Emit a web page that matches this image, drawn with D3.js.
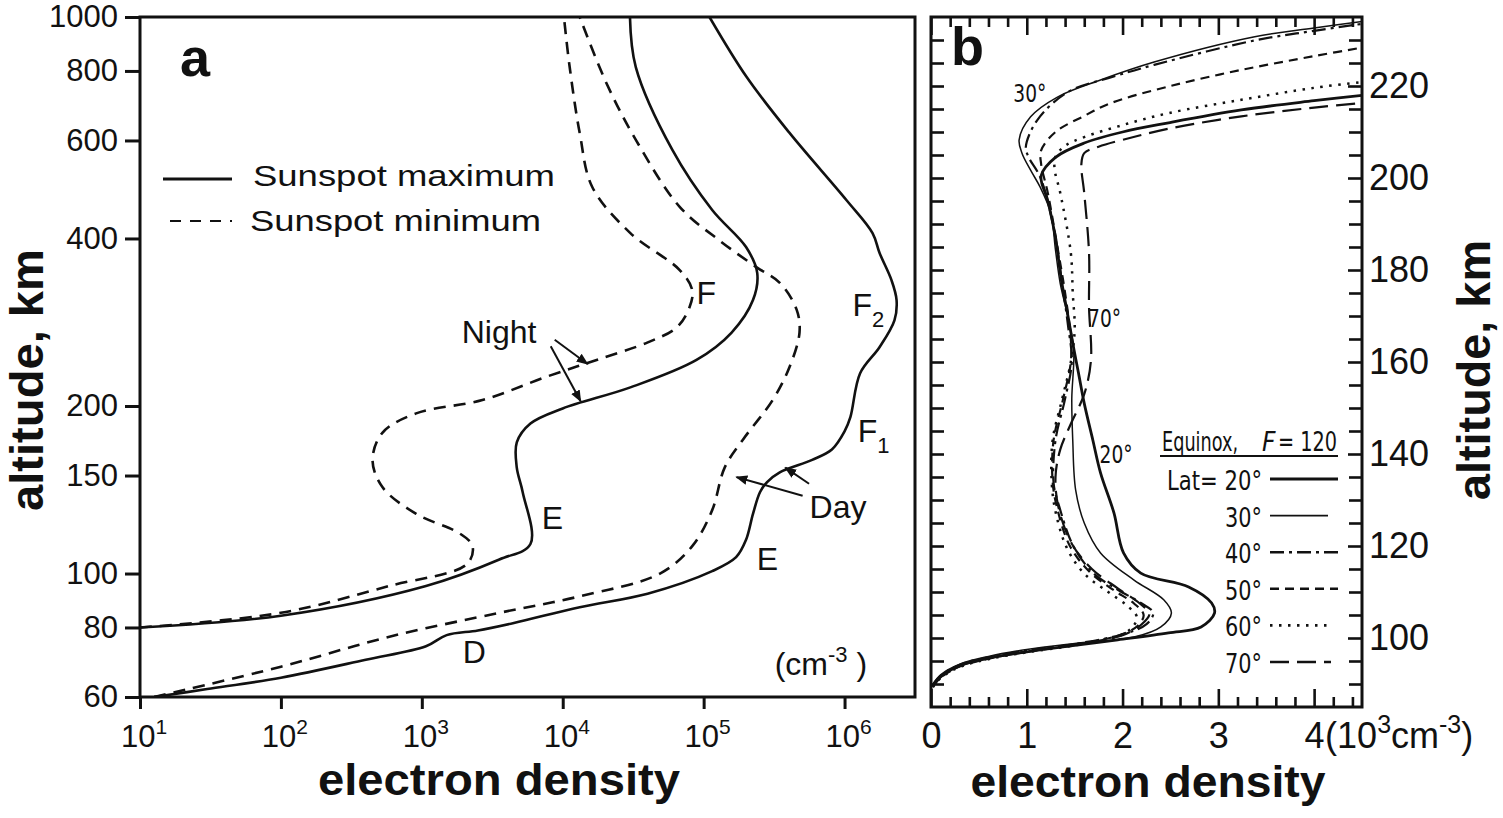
<!DOCTYPE html>
<html>
<head>
<meta charset="utf-8">
<script src="https://cdn.jsdelivr.net/npm/d3@7"></script>
<style>
  body { margin: 0; background: #fff; }
  svg { display: block; font-family: "Liberation Sans", Arial, Helvetica, sans-serif; }
  .narrow { font-family: "Liberation Sans Narrow", "DejaVu Sans Condensed", "Liberation Sans", sans-serif; }
</style>
</head>
<body>
<svg id="fig" width="1503" height="818"></svg>
<script>
// ---- panel a : electron density (cm-3) vs altitude (km), log/log ----
let dayMax = [[12.6,60],[30,62],[100,65],[400,70],[1070,74],[1500,77.5],[2500,79],[4500,81.5],[13200,87],
  [40000,92],[115000,101],[170000,107],[200000,115],[224000,128],[251000,140],[282000,146],[347000,152],
  [589000,160],[813000,167],[1.0e6,180],[1.1e6,191],[1.29e6,229],[1.77e6,255],[2.26e6,285],[2.34e6,310],
  [2.15e6,337],[1.77e6,377],[1.58e6,409],[1.03e6,469],[4.07e5,619],[2.02e5,780],[1.1e5,1000]];
let dayMin = [[12.6,60],[100,68],[589,77],[3550,85],[13200,91],[49000,100],[83000,112],[115000,130],
  [141000,155],[190000,174],[309000,205],[407000,235],[479000,271],[457000,298],[347000,333],[238000,355],
  [129000,397],[67600,456],[33100,601],[20400,761],[13200,1000]];
let nightMax = [[10,80],[100,84],[1070,95],[3550,106],[5900,113],[5200,140],[4720,155],[4720,172],
  [5900,186],[10000,198],[30200,216],[89000,242],[158000,271],[224000,310],[240000,347],[200000,386],
  [115000,450],[60000,577],[33000,813],[30000,1000]];
let nightMin = [[10,80],[100,85],[589,95],[2090,104],[2290,112],[1860,118],[912,128],[525,143],[447,160],
  [525,179],[912,194],[2690,205],[7760,226],[17400,242],[39800,260],[64600,277],[79400,301],[83000,323],
  [67600,351],[30200,409],[16200,495],[13200,619],[11200,813],[10200,1000]];

let altTicksA = [60, 80, 100, 150, 200, 400, 600, 800, 1000];
let densTicksA = [1e1, 1e2, 1e3, 1e4, 1e5, 1e6];

// annotations of panel a, in data units [density, altitude]
let labelsA = [
  {t: "Night", at: [1920, 260]}, {t: "F", at: [89000, 305]}, {t: "F", sub: "2", at: [1.14e6, 290]},
  {t: "F", sub: "1", at: [1.24e6, 172]}, {t: "Day", at: [5.65e5, 126]}, {t: "E", at: [7100, 120]},
  {t: "E", at: [2.38e5, 101.5]}, {t: "D", at: [1950, 69]}
];
let arrowsA = [
  [[8770, 263], [15000, 238]], [[8220, 256], [13400, 204]],
  [[5.04e5, 138], [1.71e5, 149]], [[5.6e5, 145], [3.8e5, 155]]
];

// ---- panel b : electron density (10^3 cm-3) vs altitude (km), linear ----
let lats = ["20°", "30°", "40°", "50°", "60°", "70°"];
let lat20 = [[0.02,89.6],[0.1,91.6],[0.3,94],[0.6,95.6],[1.0,97],[1.5,98.4],[1.95,99.6],[2.48,101.1],[2.82,102.4],
  [2.96,105.4],[2.93,107.6],[2.69,111.1],[2.19,114.1],[2.01,118.5],[1.91,127.2],[1.77,135.9],[1.69,143],
  [1.6,151],[1.54,157.6],[1.49,163],[1.43,170],[1.36,178],[1.3,187],[1.22,195],[1.15,200.5],[1.3,204.5],
  [1.6,207.6],[2.0,210],[2.48,212],[3.24,214.8],[4.0,216.8],[4.6,218.2]];
let lat30 = [[0.02,90],[0.1,92],[0.3,94.3],[0.6,96],[1.0,97.5],[1.5,98.8],[2.12,100.2],[2.4,102.4],[2.51,105.4],
  [2.43,108.3],[2.12,112.6],[1.77,118.5],[1.6,125],[1.51,132.2],[1.48,143],[1.47,152],[1.49,162.6],
  [1.43,169.8],[1.35,177],[1.3,184.3],[1.25,192.4],[1.14,198],[1.04,201.7],[0.95,205.4],[0.92,208.3],
  [1.04,213.3],[1.32,217.6],[1.77,221.3],[2.33,225.2],[3.38,230.7],[4.0,232.6],[4.6,234.3]];
let lat40 = [[0.02,89.8],[0.1,91.8],[0.3,94.2],[0.6,95.8],[1.0,97.3],[1.5,98.7],[2.0,100.8],[2.25,103],[2.32,105.5],
  [2.2,107.5],[1.95,110.5],[1.7,114],[1.49,119.8],[1.34,128.5],[1.28,133.7],[1.3,143],[1.4,152],[1.47,160],
  [1.43,168],[1.37,177],[1.28,189.3],[1.14,200.2],[1.02,204.5],[0.99,206.7],[1.11,212.6],[1.43,218.7],
  [1.9,222],[2.33,224.6],[3.38,229.9],[4.0,232],[4.6,233.8]];
let lat50 = [[0.02,89.4],[0.1,91.4],[0.3,93.8],[0.6,95.5],[1.0,97],[1.5,98.5],[1.95,100.5],[2.15,102.5],[2.22,105],
  [2.12,107.5],[1.9,110.5],[1.65,114.5],[1.45,120],[1.32,128],[1.27,134],[1.28,143],[1.38,152],[1.46,160],
  [1.46,165],[1.4,175],[1.32,185],[1.22,196.7],[1.15,203],[1.15,206],[1.3,210],[1.6,213.5],[1.88,216.3],
  [2.5,220],[3.24,223.5],[4.0,226.5],[4.6,228.7]];
let lat60 = [[0.02,89.3],[0.1,91.3],[0.3,93.7],[0.6,95.4],[1.0,96.9],[1.5,98.4],[1.95,100.3],[2.1,102.3],[2.15,104.5],
  [2.05,107],[1.85,110],[1.6,114],[1.42,119.5],[1.3,127.5],[1.26,134],[1.27,143],[1.37,152],[1.46,160],
  [1.5,167],[1.48,175],[1.46,183.7],[1.35,196.7],[1.29,202],[1.3,204.6],[1.4,207],[1.6,208.9],[2.0,211.5],
  [2.48,214.1],[3.24,217],[4.0,219.6],[4.6,221.1]];
let lat70 = [[0.02,89.5],[0.1,91.5],[0.3,93.9],[0.6,95.6],[1.0,97.1],[1.5,98.6],[2.0,100.6],[2.2,103],[2.28,105.3],
  [2.18,107.5],[1.95,110.8],[1.68,115],[1.47,120.5],[1.33,128.5],[1.3,135],[1.35,141],[1.47,147],[1.6,153],
  [1.67,160.4],[1.65,172],[1.65,183.7],[1.6,196.7],[1.57,203],[1.6,205.4],[1.75,206.8],[2.0,208.3],
  [2.5,210.8],[3.24,213.4],[4.0,215.3],[4.6,216.5]];
let profilesB = [lat20, lat30, lat40, lat50, lat60, lat70];

let densTicksB = [0, 1, 2, 3, 4];
let altTicksB = [100, 120, 140, 160, 180, 200, 220];
let labelsB = [{t: "30°", at: [0.86, 216.5]}, {t: "70°", at: [1.64, 167.6]}, {t: "20°", at: [1.76, 138]}];

// line looks for the six latitudes
let latStyle = [
  {w: 2.8, dash: null}, {w: 1.5, dash: null}, {w: 2.2, dash: "14,5,3,5"},
  {w: 2.2, dash: "9,6"}, {w: 2.5, dash: "2.5,6.5"}, {w: 2.2, dash: "19,8"}
];

let svg = d3.select("#fig");
let ink = "#111";

svg.append("defs").append("marker")
    .attr("id", "head")
    .attr("viewBox", "0 0 10 10")
    .attr("refX", 9).attr("refY", 5)
    .attr("markerWidth", 12).attr("markerHeight", 12)
    .attr("markerUnits", "userSpaceOnUse")
    .attr("orient", "auto")
  .append("path")
    .attr("d", "M0,1 L10,5 L0,9 Z")
    .attr("fill", ink);

// ======================= panel a =======================
let xa = d3.scaleLog().domain([10, Math.pow(10, 6.5)]).range([140, 915]);
let ya = d3.scaleLog().domain([60, 1000]).range([697, 17]);

let lineA = d3.line()
    .x(d => xa(d[0]))
    .y(d => ya(d[1]))
    .curve(d3.curveCatmullRom.alpha(0.5));

let pa = svg.append("g");

pa.append("defs").append("clipPath").attr("id", "clipA")
  .append("rect").attr("x", 140).attr("y", 17).attr("width", 775).attr("height", 680);

let curvesA = pa.append("g").attr("clip-path", "url(#clipA)");
[[dayMax, null], [dayMin, "12,8"], [nightMax, null], [nightMin, "12,8"]].forEach(([d, dash]) => {
  curvesA.append("path")
    .attr("d", lineA(d))
    .attr("fill", "none")
    .attr("stroke", ink)
    .attr("stroke-width", 2.6)
    .attr("stroke-dasharray", dash);
});

let axA = pa.append("g")
    .attr("transform", "translate(140,0)")
    .call(d3.axisLeft(ya).tickValues(altTicksA).tickFormat(d3.format("d")).tickSize(15).tickPadding(7));
axA.select(".domain").remove();
axA.selectAll("line").attr("stroke", ink).attr("stroke-width", 3);
axA.selectAll("text").attr("font-size", 31).attr("fill", ink).attr("font-family", null);

let axAx = pa.append("g")
    .attr("transform", "translate(0,697)")
    .call(d3.axisBottom(xa).tickValues(densTicksA).tickFormat("").tickSize(12));
axAx.select(".domain").remove();
axAx.selectAll("line").attr("stroke", ink).attr("stroke-width", 3);

let xlabA = pa.append("g").selectAll("text").data(densTicksA).enter().append("text")
    .attr("x", d => xa(d) + 4)
    .attr("y", 747)
    .attr("text-anchor", "middle")
    .attr("font-size", 31)
    .attr("fill", ink);
xlabA.append("tspan").text("10");
xlabA.append("tspan").attr("dy", -13).attr("font-size", 21).text(d => Math.round(Math.log10(d)));

pa.append("rect")
    .attr("x", 140).attr("y", 17).attr("width", 775).attr("height", 680)
    .attr("fill", "none").attr("stroke", ink).attr("stroke-width", 3);

// annotations
arrowsA.forEach(a => {
  pa.append("line")
    .attr("x1", xa(a[0][0])).attr("y1", ya(a[0][1]))
    .attr("x2", xa(a[1][0])).attr("y2", ya(a[1][1]))
    .attr("stroke", ink).attr("stroke-width", 2)
    .attr("marker-end", "url(#head)");
});

let la = pa.append("g").selectAll("text").data(labelsA).enter().append("text")
    .attr("x", d => xa(d.at[0]))
    .attr("y", d => ya(d.at[1]))
    .attr("font-size", 32)
    .attr("fill", ink);
la.append("tspan").text(d => d.t);
la.filter(d => d.sub).append("tspan").attr("dy", 11).attr("font-size", 22).text(d => d.sub);

let unitA = pa.append("text")
    .attr("x", xa(3.19e5)).attr("y", ya(65.7))
    .attr("font-size", 32).attr("fill", ink);
unitA.append("tspan").text("(cm");
unitA.append("tspan").attr("dy", -13).attr("font-size", 22).text("-3");
unitA.append("tspan").attr("dy", 13).text(" )");

pa.append("text").attr("x", 180).attr("y", 76)
    .attr("font-size", 54).attr("font-weight", "bold").attr("fill", ink).text("a");

// legend
pa.append("line").attr("x1", 163).attr("x2", 232).attr("y1", 179).attr("y2", 179)
    .attr("stroke", ink).attr("stroke-width", 3);
pa.append("line").attr("x1", 170).attr("x2", 232).attr("y1", 221).attr("y2", 221)
    .attr("stroke", ink).attr("stroke-width", 2.2).attr("stroke-dasharray", "11,9");
pa.append("text").attr("x", 253).attr("y", 186).attr("font-size", 30).attr("fill", ink)
    .attr("textLength", 302).attr("lengthAdjust", "spacingAndGlyphs").text("Sunspot maximum");
pa.append("text").attr("x", 250).attr("y", 231).attr("font-size", 30).attr("fill", ink)
    .attr("textLength", 291).attr("lengthAdjust", "spacingAndGlyphs").text("Sunspot minimum");

pa.append("text")
    .attr("transform", "translate(43,380) rotate(-90)")
    .attr("text-anchor", "middle").attr("font-size", 46).attr("font-weight", "bold").attr("fill", ink)
    .attr("textLength", 262).attr("lengthAdjust", "spacingAndGlyphs")
    .text("altitude, km");
pa.append("text")
    .attr("x", 499).attr("y", 795)
    .attr("text-anchor", "middle").attr("font-size", 44).attr("font-weight", "bold").attr("fill", ink)
    .attr("textLength", 362).attr("lengthAdjust", "spacingAndGlyphs")
    .text("electron density");

// ======================= panel b =======================
let xb = d3.scaleLinear().domain([0, 4.5]).range([931, 1362]);
let yb = d3.scaleLinear().domain([85, 235]).range([707, 17]);

let lineB = d3.line()
    .x(d => xb(d[0]))
    .y(d => yb(d[1]))
    .curve(d3.curveCatmullRom.alpha(0.5));

let pb = svg.append("g");
pb.append("defs").append("clipPath").attr("id", "clipB")
  .append("rect").attr("x", 931).attr("y", 17).attr("width", 431).attr("height", 690);

let curvesB = pb.append("g").attr("clip-path", "url(#clipB)");
profilesB.forEach((p, i) => {
  curvesB.append("path")
    .attr("d", lineB(p))
    .attr("fill", "none")
    .attr("stroke", ink)
    .attr("stroke-width", latStyle[i].w)
    .attr("stroke-dasharray", latStyle[i].dash);
});

let minorX = d3.range(0, 4.5001, 0.2).filter(v => Math.abs(v - Math.round(v)) > 1e-6);
let minorY = d3.range(90, 235, 5).filter(v => v % 20 !== 0);

function styleAxis(g) {
  g.select(".domain").remove();
  g.selectAll("line").attr("stroke", ink).attr("stroke-width", 2.6);
  g.selectAll("text").attr("fill", ink).attr("font-family", null);
}

pb.append("g").attr("transform", "translate(0,707)")
    .call(d3.axisBottom(xb).tickValues(densTicksB).tickSize(-18).tickPadding(15).tickFormat(d3.format("d")))
    .call(styleAxis)
    .selectAll("text").attr("font-size", 36);
pb.append("g").attr("transform", "translate(0,707)")
    .call(d3.axisBottom(xb).tickValues(minorX).tickSize(-10).tickFormat(""))
    .call(styleAxis);
pb.append("g").attr("transform", "translate(0,17)")
    .call(d3.axisTop(xb).tickValues(densTicksB).tickSize(-18).tickFormat(""))
    .call(styleAxis);
pb.append("g").attr("transform", "translate(0,17)")
    .call(d3.axisTop(xb).tickValues(minorX).tickSize(-10).tickFormat(""))
    .call(styleAxis);
pb.append("g").attr("transform", "translate(931,0)")
    .call(d3.axisLeft(yb).tickValues(altTicksB.concat(minorY)).tickSize(-13).tickFormat(""))
    .call(styleAxis);
pb.append("g").attr("transform", "translate(1362,0)")
    .call(d3.axisRight(yb).tickValues(altTicksB).tickSize(-14).tickPadding(7).tickFormat(d3.format("d")))
    .call(styleAxis)
    .selectAll("text").attr("font-size", 36);
pb.append("g").attr("transform", "translate(1362,0)")
    .call(d3.axisRight(yb).tickValues(minorY).tickSize(-13).tickFormat(""))
    .call(styleAxis);

pb.append("rect")
    .attr("x", 931).attr("y", 17).attr("width", 431).attr("height", 690)
    .attr("fill", "none").attr("stroke", ink).attr("stroke-width", 3);

// unit after the "4" tick label
let unitB = pb.append("text")
    .attr("x", xb(4) + 11).attr("y", 748)
    .attr("font-size", 36).attr("fill", ink);
unitB.append("tspan").text("(10");
unitB.append("tspan").attr("dy", -15).attr("font-size", 25).text("3");
unitB.append("tspan").attr("dy", 15).text("cm");
unitB.append("tspan").attr("dy", -15).attr("font-size", 25).text("-3");
unitB.append("tspan").attr("dy", 15).text(")");

pb.append("text").attr("x", 951).attr("y", 65)
    .attr("font-size", 54).attr("font-weight", "bold").attr("fill", ink).text("b");

pb.append("g").selectAll("text").data(labelsB).enter().append("text")
    .attr("class", "narrow")
    .attr("x", d => xb(d.at[0])).attr("y", d => yb(d.at[1]))
    .attr("font-size", 25).attr("fill", ink)
    .attr("textLength", 33).attr("lengthAdjust", "spacingAndGlyphs")
    .text(d => d.t);

// legend of panel b
pb.append("text").attr("class", "narrow")
    .attr("x", 1162).attr("y", 451).attr("font-size", 26).attr("fill", ink)
    .attr("textLength", 76).attr("lengthAdjust", "spacingAndGlyphs")
    .text("Equinox,");
pb.append("text").attr("class", "narrow")
    .attr("x", 1262).attr("y", 451).attr("font-size", 26).attr("font-style", "italic").attr("fill", ink)
    .text("F");
pb.append("text").attr("class", "narrow")
    .attr("x", 1278).attr("y", 451).attr("font-size", 26).attr("fill", ink)
    .attr("textLength", 59).attr("lengthAdjust", "spacingAndGlyphs")
    .text("= 120");
pb.append("line").attr("x1", 1160).attr("x2", 1338).attr("y1", 456).attr("y2", 456)
    .attr("stroke", ink).attr("stroke-width", 2);

let rows = pb.append("g").selectAll("g").data(lats).enter().append("g")
    .attr("transform", (d, i) => "translate(0," + (490 + i * 36.6) + ")");
rows.append("text").attr("class", "narrow")
    .attr("x", 1262).attr("text-anchor", "end")
    .attr("font-size", 26).attr("fill", ink)
    .attr("textLength", (d, i) => i === 0 ? 95 : 37).attr("lengthAdjust", "spacingAndGlyphs")
    .text((d, i) => (i === 0 ? "Lat= " : "") + d);
rows.append("line")
    .attr("x1", 1270).attr("x2", (d, i) => i === 1 ? 1328 : (i >= 4 ? 1331 : 1338))
    .attr("y1", -11).attr("y2", -11)
    .attr("stroke", ink)
    .attr("stroke-width", (d, i) => latStyle[i].w + 0.4)
    .attr("stroke-dasharray", (d, i) => latStyle[i].dash);

pb.append("text")
    .attr("transform", "translate(1490,370) rotate(-90)")
    .attr("text-anchor", "middle").attr("font-size", 46).attr("font-weight", "bold").attr("fill", ink)
    .attr("textLength", 260).attr("lengthAdjust", "spacingAndGlyphs")
    .text("altitude, km");
pb.append("text")
    .attr("x", 1148).attr("y", 797)
    .attr("text-anchor", "middle").attr("font-size", 44).attr("font-weight", "bold").attr("fill", ink)
    .attr("textLength", 355).attr("lengthAdjust", "spacingAndGlyphs")
    .text("electron density");
</script>
</body>
</html>
